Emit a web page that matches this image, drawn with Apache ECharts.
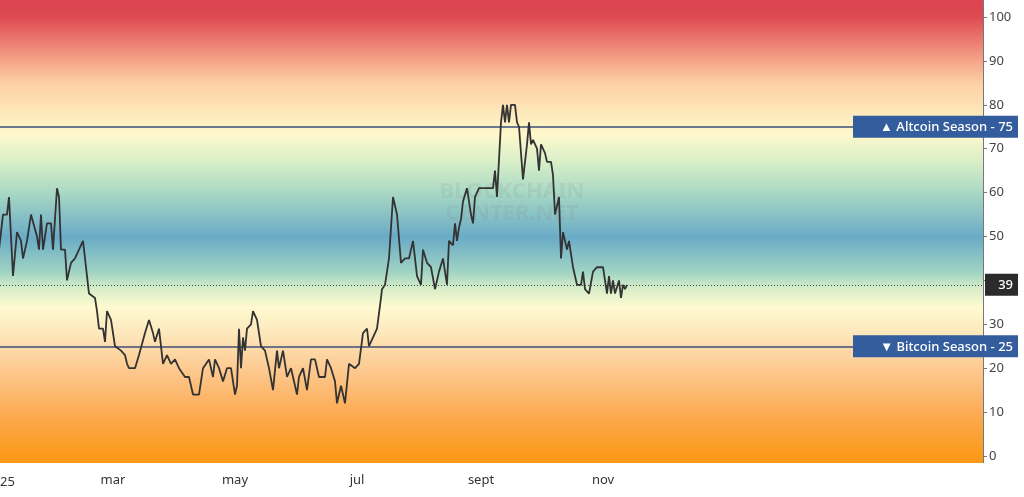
<!DOCTYPE html>
<html>
<head>
<meta charset="utf-8">
<script src="https://cdn.jsdelivr.net/npm/echarts@6/dist/echarts.min.js"></script>
<style>html,body{margin:0;padding:0;background:#fff}#main{width:1024px;height:497px}</style>
</head>
<body>
<div id="main"></div>
<script>
// day offset from 2025-01-01 and altcoin season index value
const days = [2,4,6,7,9,11,13,14,16,18,21,22,23,24,26,28,29,30,31,32,33,35,36,38,40,42,44,45,47,50,51,52,54,55,56,58,60,61,63,65,66,67,70,72,75,77,79,80,82,84,86,88,90,92,95,97,99,102,104,107,109,110,112,114,116,118,120,121,122,123,124,125,126,128,129,131,133,135,137,139,141,142,144,146,148,151,152,154,156,158,160,162,165,166,168,170,171,173,175,177,180,182,184,186,187,189,190,191,193,193.5,195,197,199,201,203,205,207,209,211,213,214,216,218,220,222,224,226,227,228,229,230,231,232,233,234,236,238,239,240,242,249,250,251,252,253,254,255,256,257,258,260,261,262,264,266,267,268,269,271,272,273,275,276,278,279,280,282,283,284,285,286,287,289,291,293,294,295,297,299,301,304,305,306,307,308,309,310,312,313,314,315,316];
const values = [47,55,55,59,41,51,49,45,49,55,50,47,55,47,53,53,47,47,61,59,47,47,40,44,45,47,49,45,37,36,33,29,29,26,33,31,25,25,24,23,21,20,20,23,28,31,28,26,29,21,23,21,22,20,18,18,14,14,20,22,18,22,20,17,20,20,14,16,29,20,27,24,29,30,33,31,25,24,20,15,24,20,24,18,20,14,18,20,15,22,22,18,18,22,20,17,12,16,12,21,20,21,28,29,25,27,27,29,36,38,39,45,59,55,44,45,45,49,41,39,47,44,43,38,42,45,39,49,49,48,53,49,52,54,58,61,55,53,59,61,61,65,59,59,76,80,76,80,76,80,80,76,75,63,71,76,71,72,70,65,71,69,67,67,64,55,59,45,51,49,47,49,43,39,39,42,38,37,42,43,43,40,37,41,37,40,37,40,36,39,38,39];
const monthDays = [59,120,181,243,304];
const monthNames = ['mar','may','jul','sept','nov'];
const altcoinLevel = 75;
const bitcoinLevel = 25;
const lastValue = 39;

const chart = echarts.init(document.getElementById('main'));
const font = '"Noto Sans", sans-serif';

chart.setOption({
  animation: false,
  grid: { left: 0, right: 41, top: 17, bottom: 41 },
  xAxis: {
    type: 'value', min: 2.5, max: 494,
    axisLine: { show: false }, axisTick: { show: false }, splitLine: { show: false },
    axisLabel: {
      customValues: monthDays, margin: 18, color: '#333', fontSize: 13, fontFamily: font,
      formatter: v => monthNames[monthDays.indexOf(v)] || ''
    }
  },
  yAxis: {
    type: 'value', position: 'right', min: 0, max: 100, interval: 10,
    axisLine: { show: true, lineStyle: { color: '#777' } },
    axisTick: { show: true, inside: false, length: 4, lineStyle: { color: '#777' } },
    splitLine: { show: false },
    axisLabel: { color: '#444', fontSize: 13, fontFamily: font, margin: 6 }
  },
  series: [{
    type: 'line', showSymbol: false, z: 5,
    data: days.map((d, i) => [d, values[i]]),
    lineStyle: { color: '#333', width: 1.8 },
    markLine: {
      symbol: 'none', silent: true, label: { show: false },
      data: [
        { yAxis: altcoinLevel, lineStyle: { color: '#3a4f78', width: 1.5, type: 'solid' } },
        { yAxis: bitcoinLevel, lineStyle: { color: '#3a4f78', width: 1.5, type: 'solid' } },
        { yAxis: lastValue, lineStyle: { color: '#444', width: 1, type: [1, 2] } }
      ]
    }
  }]
});

const yA = chart.convertToPixel({ yAxisIndex: 0 }, altcoinLevel);
const yB = chart.convertToPixel({ yAxisIndex: 0 }, bitcoinLevel);
const yL = chart.convertToPixel({ yAxisIndex: 0 }, lastValue);
const bg = new echarts.graphic.LinearGradient(0, 0, 0, 1, [
  { offset: 0, color: '#dc4450' }, { offset: 17/463, color: '#de4a52' },
  { offset: 61/463, color: '#f6a48a' }, { offset: 83/463, color: '#fcd0a4' },
  { offset: 113/463, color: '#fde9bb' }, { offset: 135/463, color: '#fdf8cc' },
  { offset: 162/463, color: '#d8efc8' }, { offset: 193/463, color: '#a8d8c4' },
  { offset: 237/463, color: '#6aabc6' }, { offset: 272/463, color: '#a0d4c4' },
  { offset: 289/463, color: '#d8eec8' }, { offset: 307/463, color: '#fffad0' },
  { offset: 333/463, color: '#fde8bc' }, { offset: 368/463, color: '#fdca92' },
  { offset: 412/463, color: '#fdac55' }, { offset: 456/463, color: '#fb9a1a' },
  { offset: 1, color: '#fb9818' }
]);
function tag(y, text, x, w, fill) {
  return [
    { type: 'rect', zlevel: 2, z: 100, shape: { x: x, y: y - 11, width: w, height: 22 }, style: { fill: fill } },
    { type: 'text', zlevel: 2, z: 101, x: x + w - 5, y: y + 1, style: { text: text, fill: '#fff', font: '500 13px ' + font, align: 'right', verticalAlign: 'middle' } }
  ];
}
chart.setOption({
  graphic: [
    { type: 'rect', z: -10, shape: { x: 0, y: 0, width: 984, height: 463 }, style: { fill: bg } },
    { type: 'line', z: 3, shape: { x1: 983.5, y1: 0, x2: 983.5, y2: 463 }, style: { stroke: '#777', lineWidth: 1 } },
    { type: 'text', z: 1, x: 512, y: 203, style: { text: 'BLOCKCHAIN\nCENTER.NET', fill: 'rgba(120,120,120,0.12)', font: 'bold 22px ' + font, align: 'center', verticalAlign: 'middle', lineHeight: 22 } },
    { type: 'text', x: 0, y: 482, style: { text: '25', fill: '#333', font: '13px ' + font, verticalAlign: 'middle' } }
  ].concat(
    tag(yA, '▲ Altcoin Season - 75', 853, 165, '#345d9d'),
    tag(yB, '▼ Bitcoin Season - 25', 853, 165, '#345d9d'),
    tag(yL, '39', 985, 33, '#2b2b2b')
  )
});
</script>
</body>
</html>
